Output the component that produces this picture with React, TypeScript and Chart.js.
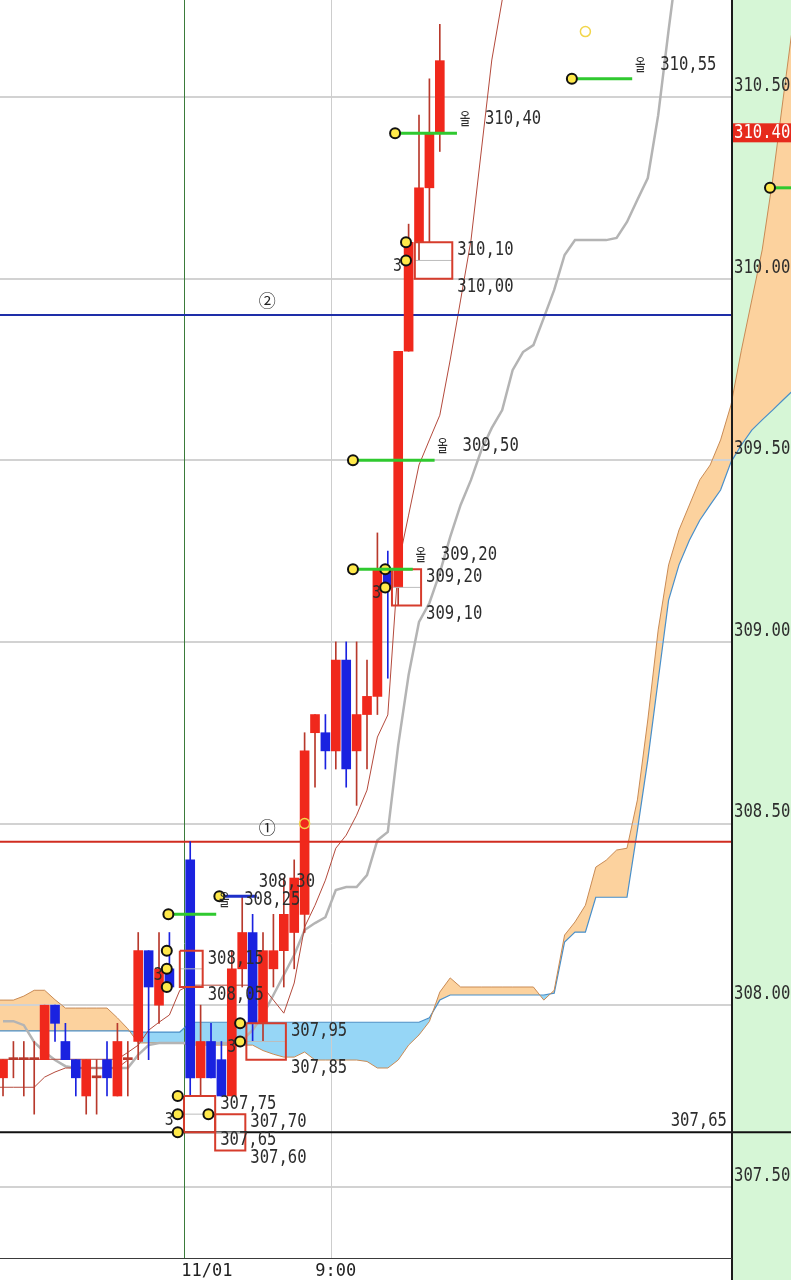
import React, { useEffect, useRef } from 'react';
import { Chart, registerables } from 'chart.js';

Chart.register(...registerables);

// ---------- scale ranges ----------
const X_MIN = -0.29;
const X_MAX = 75.77;
const PANE_EDGE = 70.1; // bar index at the right border of the price pane
const Y_MIN = 307.304;
const Y_MAX = 310.767;

// ---------- axis labels ----------
const yTickValues = [307.5, 308.0, 308.5, 309.0, 309.5, 310.0, 310.5];
const timeLabels = ['11/01', '9:00'];
const timeLabelAt = [19.6, 32.0];
const timeGridAt = [17.4, 31.55];

// ---------- candles (bar index 0..42) ----------
const candleOpen = [307.80, 307.85, 307.85, 307.85, 307.85, 308.00, 307.90, 307.85, 307.75, 307.80, 307.85, 307.75, 307.85, 307.90, 308.15, 308.00, 308.10, null, 308.40, 307.80, 307.90, 307.85, 307.75, 308.10, 308.20, 307.95, 308.10, 308.15, 308.20, 308.25, 308.75, 308.75, 308.70, 308.95, 308.70, 308.80, 308.85, 309.20, 309.15, 309.80, 310.10, 310.25, 310.40];
const candleHigh = [307.85, 307.90, 307.90, 307.90, 308.00, 308.00, 307.95, 307.85, 307.85, 307.85, 307.90, 307.95, 307.90, 308.20, 308.15, 308.20, 308.20, null, 308.45, 308.00, 307.95, 307.90, 308.15, 308.30, 308.25, 308.20, 308.25, 308.35, 308.40, 308.75, 308.80, 308.80, 309.00, 309.00, 309.00, 308.95, 309.30, 309.25, 309.80, 310.15, 310.45, 310.55, 310.70];
const candleLow = [307.75, 307.80, 307.75, 307.70, 307.85, 307.90, 307.85, 307.75, 307.70, 307.70, 307.75, 307.75, 307.75, 307.85, 307.85, 307.95, 308.05, null, 307.75, 307.75, 307.80, 307.75, 307.75, 308.05, 307.90, 307.90, 308.05, 308.05, 308.10, 308.20, 308.60, 308.65, 308.65, 308.60, 308.55, 308.65, 308.80, 308.90, 309.10, 309.80, 310.05, 310.10, 310.35];
const candleClose = [307.85, 307.85, 307.85, 307.85, 308.00, 307.95, 307.85, 307.80, 307.85, 307.80, 307.80, 307.90, 307.85, 308.15, 308.05, 308.10, 308.05, null, 307.80, 307.90, 307.80, 307.75, 308.10, 308.20, 307.95, 308.15, 308.15, 308.25, 308.35, 308.70, 308.80, 308.70, 308.95, 308.65, 308.80, 308.85, 309.20, 309.15, 309.80, 310.10, 310.25, 310.40, 310.60];

// ---------- cloud (bar index -1..76) ----------
const CLOUD_START = -1;
const cloudSpanA = [308.014, 308.014, 308.014, 308.025, 308.041, 308.041, 308.015, 307.992, 307.992, 307.992, 307.992, 307.992, 307.965, 307.935, 307.896, 307.896, 307.896, 307.896, 307.896, 307.890, 307.890, 307.890, 307.890, 307.890, 307.890, 307.890, 307.875, 307.865, 307.857, 307.857, 307.871, 307.849, 307.849, 307.849, 307.849, 307.849, 307.845, 307.827, 307.827, 307.849, 307.890, 307.918, 307.955, 308.036, 308.075, 308.050, 308.050, 308.050, 308.050, 308.050, 308.050, 308.050, 308.050, 308.014, 308.041, 308.193, 308.229, 308.275, 308.380, 308.399, 308.427, 308.432, 308.565, 308.785, 309.033, 309.212, 309.308, 309.377, 309.446, 309.487, 309.556, 309.652, 309.803, 309.941, 310.079, 310.271, 310.492, 310.712];
const cloudSpanB = [307.929, 307.929, 307.929, 307.929, 307.929, 307.929, 307.929, 307.929, 307.929, 307.929, 307.929, 307.929, 307.929, 307.929, 307.926, 307.926, 307.926, 307.926, 307.926, 307.953, 307.953, 307.953, 307.953, 307.953, 307.953, 307.953, 307.953, 307.953, 307.953, 307.953, 307.953, 307.953, 307.953, 307.953, 307.953, 307.953, 307.953, 307.953, 307.953, 307.953, 307.953, 307.953, 307.965, 308.014, 308.028, 308.028, 308.028, 308.028, 308.028, 308.028, 308.028, 308.028, 308.028, 308.028, 308.033, 308.174, 308.201, 308.201, 308.297, 308.297, 308.297, 308.297, 308.482, 308.675, 308.895, 309.115, 309.212, 309.280, 309.335, 309.377, 309.418, 309.495, 309.542, 309.583, 309.611, 309.638, 309.666, 309.693];

// ---------- other lines ----------
const GRAY_START = 0;
const grayLine = [307.956, 307.956, 307.945, 307.898, 307.871, 307.849, 307.832, 307.827, 307.827, 307.827, 307.827, 307.827, 307.827, 307.863, 307.890, 307.896, 307.896, 307.896, 307.896, 307.896, 307.896, 307.896, 307.896, 307.904, 307.931, 307.973, 308.028, 308.083, 308.138, 308.207, 308.226, 308.242, 308.317, 308.325, 308.325, 308.358, 308.454, 308.477, 308.716, 308.909, 309.055, 309.107, 309.190, 309.289, 309.377, 309.446, 309.528, 309.589, 309.638, 309.748, 309.798, 309.817, 309.892, 309.969, 310.065, 310.106, 310.106, 310.106, 310.106, 310.112, 310.156, 310.217, 310.277, 310.450, 310.684, 310.905];
const BROWN_START = -1;
const brownFast = [307.851, 307.851, 307.851, 307.851, 307.851, 307.851, 307.851, 307.851, 307.851, 307.851, 307.851, 307.851, 307.851, 307.870, 307.890, 307.931, 307.953, 307.973, 308.041, 308.055, 308.055, 308.055, 308.055, 308.055, 308.055, 308.055, 308.050, 308.014, 307.978, 308.061, 308.215, 308.275, 308.344, 308.432, 308.468, 308.523, 308.592, 308.738, 308.799, 309.212, 309.349, 309.487, 309.556, 309.624, 309.776, 309.941, 310.106, 310.354, 310.602, 310.767, 310.932];
const brownSlow = [307.774, 307.774, 307.774, 307.774, 307.774, 307.802, 307.816, 307.827, 307.827, 307.827, 307.827, 307.827, 307.827, 307.849];

// ---------- horizontal reference lines ----------
const refBluePrice = 309.90;
const refRedPrice = 308.45;
const refBlackPrice = 307.65;
const refLabelAt = 25.4;
const lastPrice = 310.40;

// ---------- order levels (dot + line + label) ----------
const levelPrice = [310.55, 310.40, 309.50, 309.20, 308.25, 310.25, 308.30];
const levelFrom = [54.7, 37.7, 33.65, 33.65, 15.9, 73.75, 20.8];
const levelTo = [60.5, 43.65, 41.5, 39.4, 20.5, 76.0, 24.4];
const levelKind = ['green', 'green', 'green', 'green', 'green', 'green', 'blue'];
const levelTagged = [true, true, true, true, true, false, false];
const levelLabeled = [true, true, true, true, true, false, true];

// ---------- fill boxes ----------
const boxTop = [310.10, 309.20, 308.15, 307.95, 307.75, 307.70];
const boxBottom = [310.00, 309.10, 308.05, 307.85, 307.65, 307.60];
const boxFrom = [39.6, 37.4, 17.0, 23.4, 17.4, 20.4];
const boxTo = [43.2, 40.2, 19.2, 27.2, 20.4, 23.3];
const boxDots = [2, 2, 3, 2, 3, 1];
const boxDotAt = [38.75, 36.75, 15.75, 22.8, 16.8, 19.75];
const boxCount = ['3', '3', '3', '3', '3', ''];

// ---------- signals ----------
const signalAt = [29, 56];
const signalPrice = [308.50, 310.68];

// ---------- styles ----------
const RED = '#f0281c';
const RED_WICK = '#b8392c';
const BLUE = '#1a22e0';
const GREEN_PANEL = '#d6f6d6';
const TEXT = '#2d2d2d';
const MONO = '"DejaVu Sans Mono", "Liberation Mono", monospace';

const fmt = (p: number) => p.toFixed(2).replace('.', ',');
const seq = (start: number, arr: number[]) => arr.map((v, k) => ({ x: start + k, y: v }));

function drawText(ctx: CanvasRenderingContext2D, s: string, x: number, y: number, align = 'left', color = TEXT, size = 19, sx = 0.82) {
  ctx.save();
  ctx.font = `${size}px ${MONO}`;
  ctx.fillStyle = color;
  ctx.textBaseline = 'middle';
  ctx.textAlign = 'left';
  const w = ctx.measureText(s).width * sx;
  const left = align === 'left' ? x : align === 'right' ? x - w : x - w / 2;
  ctx.translate(left, y);
  ctx.scale(sx, 1);
  ctx.fillText(s, 0, 0);
  ctx.restore();
}

function drawTag(ctx: CanvasRenderingContext2D, x: number, y: number) {
  ctx.save();
  ctx.translate(x, y);
  ctx.scale(0.72, 1.1);
  ctx.font = '16px "Noto Sans CJK KR", sans-serif';
  ctx.fillStyle = TEXT;
  ctx.textAlign = 'center';
  ctx.textBaseline = 'middle';
  ctx.fillText('올', 0, 0);
  ctx.restore();
}

function drawCircled(ctx: CanvasRenderingContext2D, s: string, x: number, y: number) {
  ctx.save();
  ctx.font = '17px "Noto Sans CJK KR", sans-serif';
  ctx.fillStyle = '#222';
  ctx.textAlign = 'center';
  ctx.textBaseline = 'middle';
  ctx.fillText(s, x, y);
  ctx.restore();
}

const paintPlugin = {
  id: 'paintPlugin',
  beforeDraw(chart: any) {
    const { ctx, width, height } = chart;
    const edge = Math.round(chart.scales.x.getPixelForValue(PANE_EDGE));
    ctx.save();
    ctx.fillStyle = '#ffffff';
    ctx.fillRect(0, 0, width, height);
    ctx.fillStyle = GREEN_PANEL;
    ctx.fillRect(edge, 0, width - edge, height);
    ctx.restore();
  },
  beforeDatasetsDraw(chart: any) {
    const { ctx, chartArea } = chart;
    const xs = chart.scales.x;
    const ys = chart.scales.y;
    const edge = Math.round(xs.getPixelForValue(PANE_EDGE));
    ctx.save();
    ctx.strokeStyle = '#d2d2d2';
    ctx.lineWidth = 2;
    yTickValues.forEach((v) => {
      const y = Math.round(ys.getPixelForValue(v));
      ctx.beginPath();
      ctx.moveTo(0, y);
      ctx.lineTo(edge, y);
      ctx.stroke();
    });
    const gridColors = ['#3b7b3b', '#cdcdcd'];
    timeGridAt.forEach((v, i) => {
      const x = Math.round(xs.getPixelForValue(v)) + 0.5;
      ctx.strokeStyle = gridColors[i];
      ctx.lineWidth = 1;
      ctx.beginPath();
      ctx.moveTo(x, chartArea.top);
      ctx.lineTo(x, chartArea.bottom);
      ctx.stroke();
    });
    ctx.restore();
  },
  afterDatasetsDraw(chart: any) {
    const { ctx, chartArea, width, height } = chart;
    const xs = chart.scales.x;
    const ys = chart.scales.y;
    const px = (v: number) => xs.getPixelForValue(v);
    const py = (v: number) => ys.getPixelForValue(v);
    const edge = Math.round(px(PANE_EDGE));

    // level labels
    levelPrice.forEach((p, i) => {
      if (!levelLabeled[i]) return;
      const xe = px(levelTo[i]);
      const y = py(p);
      if (levelTagged[i]) {
        drawTag(ctx, xe + 8, y - 15);
        drawText(ctx, fmt(p), xe + 28, y - 14);
      } else {
        drawText(ctx, fmt(p), xe + 2, y - 14);
      }
    });

    // box labels
    boxTop.forEach((t, i) => {
      const xr = px(boxTo[i]);
      drawText(ctx, fmt(t), xr + 5, py(t) + 8);
      drawText(ctx, fmt(boxBottom[i]), xr + 5, py(boxBottom[i]) + 8);
      if (boxCount[i]) {
        drawText(ctx, boxCount[i], px(boxDotAt[i]) - 13, py((t + boxBottom[i]) / 2) + 6, 'left', TEXT, 18);
      }
    });

    // reference line labels
    drawCircled(ctx, '②', px(refLabelAt), py(refBluePrice) - 14);
    drawCircled(ctx, '①', px(refLabelAt), py(refRedPrice) - 14);
    drawText(ctx, fmt(refBlackPrice), edge - 5, py(refBlackPrice) - 11, 'right');

    // right border + bottom border
    ctx.save();
    ctx.fillStyle = '#1c1c1c';
    ctx.fillRect(edge - 1, 0, 2, height);
    ctx.fillStyle = '#3a3a3a';
    ctx.fillRect(0, chartArea.bottom, edge, 1);
    ctx.restore();

    // price axis labels
    yTickValues.forEach((v) => {
      drawText(ctx, v.toFixed(2), edge + 2, py(v) - 11);
    });

    // current price tag
    const ly = py(lastPrice);
    ctx.save();
    ctx.fillStyle = '#e62a1c';
    ctx.fillRect(edge + 1, ly - 10, width - edge - 1, 19);
    ctx.restore();
    drawText(ctx, lastPrice.toFixed(2), edge + 2, ly, 'left', '#ffffff');
  },
};

function buildConfig(): any {
  const idx = candleOpen.map((_, i) => i).filter((i) => candleOpen[i] !== null);
  const up = (i: number) => (candleClose[i] as number) >= (candleOpen[i] as number);

  const datasets: any[] = [];

  // cloud
  datasets.push({
    type: 'line', label: 'spanB', data: seq(CLOUD_START, cloudSpanB),
    borderColor: '#4a8fc8', borderWidth: 1.2, pointRadius: 0, fill: false, order: 20,
  });
  datasets.push({
    type: 'line', label: 'spanA', data: seq(CLOUD_START, cloudSpanA),
    borderColor: '#c98b55', borderWidth: 1, pointRadius: 0, order: 19,
    fill: { target: '-1', above: 'rgba(252, 210, 158, 1)', below: 'rgba(150, 214, 246, 1)' },
  });
  // gray and brown lines
  datasets.push({
    type: 'line', label: 'gray', data: seq(GRAY_START, grayLine),
    borderColor: '#b4b4b4', borderWidth: 2.5, pointRadius: 0, fill: false, order: 18,
  });
  datasets.push({
    type: 'line', label: 'brownSlow', data: seq(BROWN_START, brownSlow),
    borderColor: '#b44a3c', borderWidth: 1, pointRadius: 0, fill: false, order: 17,
  });
  datasets.push({
    type: 'line', label: 'brownFast', data: seq(BROWN_START, brownFast),
    borderColor: '#b44a3c', borderWidth: 1, pointRadius: 0, fill: false, order: 16,
  });
  // reference lines under candles
  datasets.push({
    type: 'line', label: 'refBlue', data: [{ x: X_MIN, y: refBluePrice }, { x: PANE_EDGE, y: refBluePrice }],
    borderColor: '#1e2ea8', borderWidth: 2, pointRadius: 0, fill: false, order: 15,
  });
  datasets.push({
    type: 'line', label: 'refRed', data: [{ x: X_MIN, y: refRedPrice }, { x: PANE_EDGE, y: refRedPrice }],
    borderColor: '#d02c20', borderWidth: 2, pointRadius: 0, fill: false, order: 14,
  });
  // candles
  datasets.push({
    type: 'bar', label: 'wicks', data: idx.map((i) => ({ x: i, y: [candleLow[i], candleHigh[i]] })),
    backgroundColor: idx.map((i) => (up(i) ? RED_WICK : BLUE)),
    barThickness: 1, grouped: false, order: 13, borderWidth: 0,
  });
  datasets.push({
    type: 'bar', label: 'bodies', data: idx.map((i) => ({ x: i, y: [candleOpen[i], candleClose[i]] })),
    backgroundColor: idx.map((i) => (candleOpen[i] === candleClose[i] ? RED_WICK : up(i) ? RED : BLUE)),
    barThickness: 9, minBarLength: 2, grouped: false, order: 12, borderWidth: 0,
  });
  // black line
  datasets.push({
    type: 'line', label: 'refBlack', data: [{ x: X_MIN, y: refBlackPrice }, { x: X_MAX, y: refBlackPrice }],
    borderColor: '#111111', borderWidth: 2, pointRadius: 0, fill: false, order: 11,
  });
  // boxes
  boxTop.forEach((t, i) => {
    const mid = (t + boxBottom[i]) / 2;
    datasets.push({
      type: 'line', label: 'boxMid' + i, data: [{ x: boxFrom[i], y: mid }, { x: boxTo[i], y: mid }],
      borderColor: '#bdbdbd', borderWidth: 1, pointRadius: 0, fill: false, order: 10,
    });
    datasets.push({
      type: 'line', label: 'box' + i,
      data: [
        { x: boxFrom[i], y: t }, { x: boxTo[i], y: t }, { x: boxTo[i], y: boxBottom[i] },
        { x: boxFrom[i], y: boxBottom[i] }, { x: boxFrom[i], y: t },
      ],
      borderColor: '#d63c2c', borderWidth: 2, pointRadius: 0, fill: false, order: 9,
    });
  });
  const dotPts: any[] = [];
  boxTop.forEach((t, i) => {
    const levels = [t, (t + boxBottom[i]) / 2, boxBottom[i]].slice(0, boxDots[i]);
    levels.forEach((v) => dotPts.push({ x: boxDotAt[i], y: v }));
  });
  datasets.push({
    type: 'line', label: 'boxDots', data: dotPts, showLine: false,
    pointRadius: 5, pointBackgroundColor: '#ffe94a', pointBorderColor: '#111', pointBorderWidth: 2, order: 8,
  });
  // levels
  levelPrice.forEach((p, i) => {
    datasets.push({
      type: 'line', label: 'level' + i, data: [{ x: levelFrom[i], y: p }, { x: levelTo[i], y: p }],
      borderColor: levelKind[i] === 'blue' ? '#1d2fc9' : '#2fc92f', borderWidth: 3,
      pointRadius: [5, 0], pointBackgroundColor: '#ffe94a', pointBorderColor: '#111', pointBorderWidth: 2,
      fill: false, order: 7,
    });
  });
  // signals
  datasets.push({
    type: 'line', label: 'signals', data: signalAt.map((x, k) => ({ x, y: signalPrice[k] })), showLine: false,
    pointRadius: 5, pointBackgroundColor: 'rgba(0,0,0,0)', pointBorderColor: '#f2d64a', pointBorderWidth: 1.5, order: 6,
  });

  return {
    type: 'bar',
    data: { datasets },
    plugins: [paintPlugin],
    options: {
      animation: false,
      responsive: false,
      maintainAspectRatio: false,
      devicePixelRatio: 1,
      events: [],
      layout: { padding: 0, autoPadding: false },
      plugins: {
        legend: { display: false },
        tooltip: { enabled: false },
        title: { display: false },
        filler: { drawTime: 'beforeDatasetsDraw', propagate: false },
      },
      scales: {
        x: {
          type: 'linear',
          min: X_MIN,
          max: X_MAX,
          offset: false,
          grid: { display: false, drawTicks: false, offset: false },
          border: { display: false },
          afterBuildTicks: (s: any) => { s.ticks = timeLabelAt.map((v) => ({ value: v })); },
          afterFit: (s: any) => { s.height = 22; },
          ticks: {
            autoSkip: false, maxRotation: 0, minRotation: 0, padding: 3,
            color: '#222', font: { family: 'DejaVu Sans Mono', size: 17 },
            callback: (_v: any, i: number) => timeLabels[i] ?? '',
          },
        },
        y: {
          type: 'linear',
          display: false,
          min: Y_MIN,
          max: Y_MAX,
          beginAtZero: false,
        },
      },
    },
  };
}

export default function App() {
  const ref = useRef<HTMLCanvasElement>(null);
  useEffect(() => {
    if (!ref.current) return;
    const chart = new Chart(ref.current, buildConfig());
    return () => chart.destroy();
  }, []);
  return (
    <div style={{ position: 'absolute', left: 0, top: 0, width: 791, height: 1280, background: '#fff' }}>
      <canvas ref={ref} width={791} height={1280} style={{ display: 'block', width: 791, height: 1280 }} />
    </div>
  );
}
